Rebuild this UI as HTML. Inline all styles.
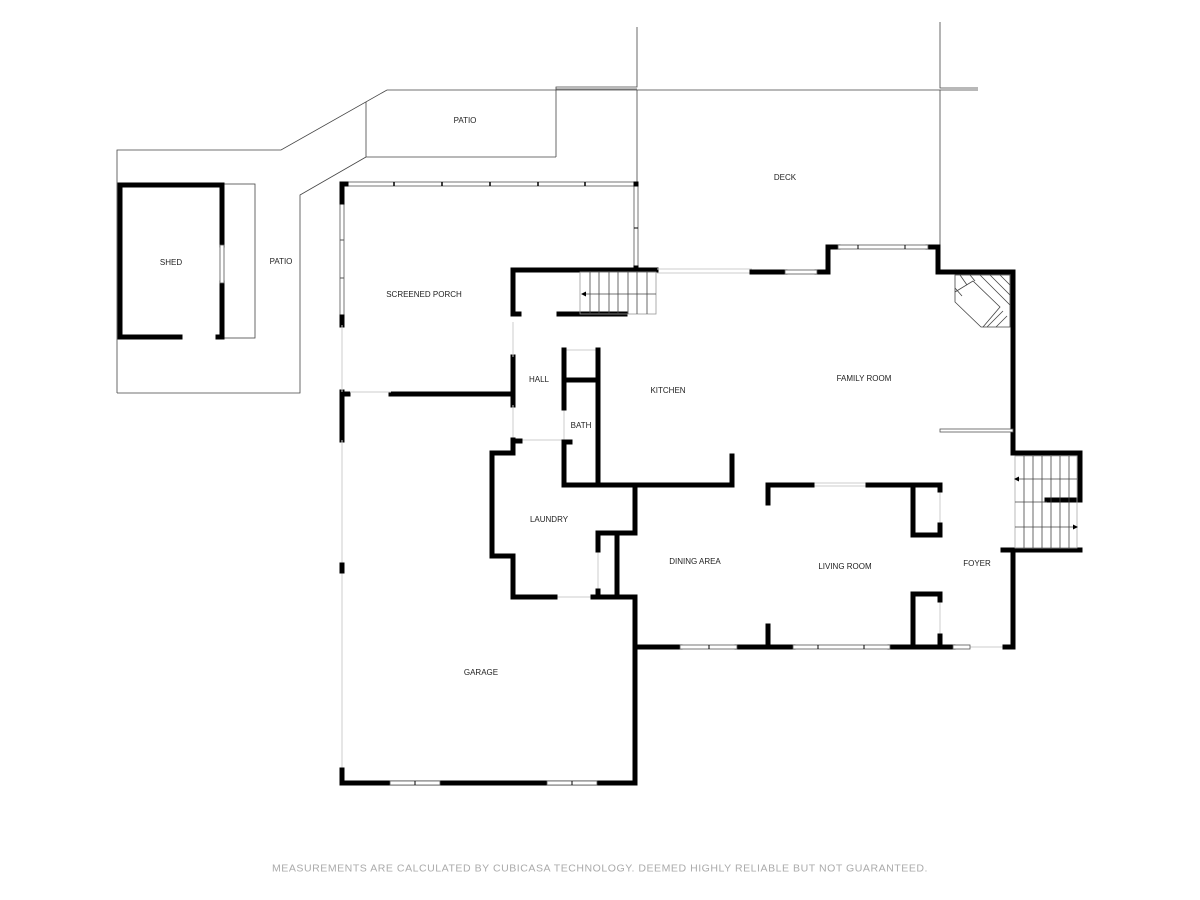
<!DOCTYPE html>
<html><head><meta charset="utf-8"><style>
html,body{margin:0;padding:0;background:#fff;width:1200px;height:900px;overflow:hidden}
svg{display:block}
text{font-family:"Liberation Sans",sans-serif;font-size:8px;fill:#222;text-anchor:middle;dominant-baseline:middle}
.w{stroke:#000;stroke-width:5;fill:none;stroke-linecap:square}
.t{stroke:#444;stroke-width:0.8;fill:none}
.l{stroke:#ccc;stroke-width:1;fill:none}
.win{fill:#fff;stroke:#555;stroke-width:0.8}
</style></head><body>
<svg width="1200" height="900" viewBox="0 0 1200 900" xmlns="http://www.w3.org/2000/svg">
<!-- outdoor outlines -->
<g class="t">
<polyline points="117,393 117,150 281,150 387,90 978,90"/>
<polyline points="556,157 556,87 637,87 637,27"/>
<line x1="556" y1="89" x2="637" y2="89"/>
<line x1="637" y1="90" x2="637" y2="183"/>
<polyline points="940,22 940,88 978,88"/>
<line x1="940" y1="90" x2="940" y2="247"/>
<polyline points="366,102 366,157 556,157"/>
<polyline points="366,157 300,195 300,393 117,393"/>
<rect x="222" y="184" width="33" height="154"/>
</g>
<!-- shed -->
<g class="w">
<polyline points="180,337 120,337 120,185 222,185 222,245"/>
<polyline points="222,283 222,337 218,337"/>
</g>
<rect class="win" x="220" y="245" width="4" height="38"/>
<!-- porch windows -->
<g>
<rect class="win" x="346" y="182" width="290" height="4"/>
<line x1="394" y1="182" x2="394" y2="186" stroke="#000" stroke-width="1.5"/>
<line x1="442" y1="182" x2="442" y2="186" stroke="#000" stroke-width="1.5"/>
<line x1="490" y1="182" x2="490" y2="186" stroke="#000" stroke-width="1.5"/>
<line x1="538" y1="182" x2="538" y2="186" stroke="#000" stroke-width="1.5"/>
<line x1="585" y1="182" x2="585" y2="186" stroke="#000" stroke-width="1.5"/>
<rect class="win" x="340" y="203" width="4" height="112"/>
<line x1="340" y1="240" x2="344" y2="240" stroke="#555"/>
<line x1="340" y1="278" x2="344" y2="278" stroke="#555"/>
<rect class="win" x="634" y="186" width="4" height="84"/>
<line x1="634" y1="228" x2="638" y2="228" stroke="#000"/>
</g>
<g class="w">
<line x1="342" y1="184" x2="346" y2="184"/>
<line x1="342" y1="184" x2="342" y2="202"/>
<line x1="636" y1="184" x2="636" y2="184"/>
<line x1="342" y1="317" x2="342" y2="325"/>
<line x1="342" y1="392" x2="342" y2="440"/>
<line x1="342" y1="394" x2="348" y2="394"/>
<polyline points="391,394 513,394"/>
<polyline points="513,405 513,357"/>
<polyline points="519,314 513,314 513,270 656,270"/>
<line x1="559" y1="314" x2="625" y2="314"/>
<line x1="636" y1="268" x2="636" y2="270"/>
</g>
<g class="l">
<line x1="342" y1="325" x2="342" y2="392"/>
<line x1="342" y1="440" x2="342" y2="780"/>
<line x1="350" y1="392" x2="391" y2="392"/>
<line x1="513" y1="322" x2="513" y2="357"/>
<line x1="513" y1="405" x2="513" y2="440"/>
<line x1="513" y1="440" x2="563" y2="440"/>
<line x1="657" y1="269" x2="752" y2="269"/>
<line x1="657" y1="273" x2="752" y2="273"/>
<line x1="564" y1="350" x2="598" y2="350"/>
<line x1="564" y1="408" x2="564" y2="442"/>
<line x1="555" y1="597" x2="593" y2="597"/>
<line x1="598" y1="550" x2="598" y2="590"/>
<line x1="940" y1="490" x2="940" y2="525"/>
<line x1="940" y1="600" x2="940" y2="636"/>
<line x1="812" y1="483" x2="868" y2="483"/>
<line x1="812" y1="486" x2="868" y2="486"/>
<line x1="970" y1="647" x2="1005" y2="647"/>
</g>
<!-- left stair -->
<g class="t" stroke="#555">
<rect x="580" y="272" width="76" height="42" stroke="#999"/>
<line x1="590" y1="272" x2="590" y2="314"/><line x1="599" y1="272" x2="599" y2="314"/>
<line x1="609" y1="272" x2="609" y2="314"/><line x1="618" y1="272" x2="618" y2="314"/>
<line x1="628" y1="272" x2="628" y2="314"/><line x1="637" y1="272" x2="637" y2="314"/>
<line x1="647" y1="272" x2="647" y2="314"/>
<line x1="583" y1="294" x2="656" y2="294"/>
</g>
<polygon points="581,294 586,291.5 586,296.5" fill="#000"/>
<!-- bath / hall / kitchen -->
<g class="w">
<polyline points="564,350 564,408"/>
<polyline points="598,350 598,485"/>
<line x1="564" y1="380" x2="598" y2="380"/>
<polyline points="570,442 564,442 564,485 732,485 732,456"/>
<!-- laundry -->
<polyline points="513,440 513,453 492,453 492,556 513,556 513,597 555,597"/>
<line x1="520" y1="441" x2="513" y2="441"/>
<polyline points="593,597 635,597 635,783 342,783 342,770"/>
<line x1="342" y1="565" x2="342" y2="571"/>
<polyline points="635,485 635,533 598,533 598,550"/>
<line x1="598" y1="591" x2="598" y2="597"/>
<line x1="617" y1="533" x2="617" y2="597"/>
<!-- dining / living -->
<polyline points="635,647 680,647"/>
<line x1="737" y1="647" x2="793" y2="647"/>
<line x1="890" y1="647" x2="953" y2="647"/>
<line x1="1005" y1="647" x2="1013" y2="647"/>
<line x1="768" y1="626" x2="768" y2="647"/>
<polyline points="768,503 768,485 812,485"/>
<polyline points="868,485 940,485 940,490"/>
<polyline points="913,485 913,535 940,535 940,525"/>
<polyline points="940,600 940,594 913,594 913,645"/>
<line x1="940" y1="636" x2="940" y2="645"/>
<!-- exterior east -->
<polyline points="752,272 785,272"/>
<polyline points="817,272 828,272 828,247 838,247"/>
<polyline points="928,247 938,247 938,272 1013,272 1013,453 1080,453 1080,500 1047,500"/>
<polyline points="1003,550 1080,550"/>
<line x1="1013" y1="550" x2="1013" y2="647"/>
</g>
<!-- windows east/south -->
<rect class="win" x="785" y="270" width="32" height="4"/>
<rect class="win" x="838" y="245" width="90" height="4"/>
<line x1="858" y1="245" x2="858" y2="249" stroke="#000"/><line x1="905" y1="245" x2="905" y2="249" stroke="#000"/>
<rect class="win" x="390" y="781" width="50" height="4"/><line x1="415" y1="781" x2="415" y2="785" stroke="#000"/>
<rect class="win" x="547" y="781" width="50" height="4"/><line x1="572" y1="781" x2="572" y2="785" stroke="#000"/>
<rect class="win" x="680" y="645" width="57" height="4"/><line x1="709" y1="645" x2="709" y2="649" stroke="#000"/>
<rect class="win" x="793" y="645" width="97" height="4"/><line x1="818" y1="645" x2="818" y2="649" stroke="#000"/><line x1="864" y1="645" x2="864" y2="649" stroke="#000"/>
<rect class="win" x="953" y="645" width="17" height="4"/>
<rect class="win" x="940" y="429" width="73" height="3"/>
<!-- fireplace -->
<g class="t" stroke="#222">
<polygon points="955,275 1010,275 1010,327 981,327 955,302"/>
<polyline points="955,292 973,281 1000,307 983,327"/>
<line x1="960" y1="275" x2="967" y2="285"/><line x1="970" y1="275" x2="975" y2="281"/>
<line x1="980" y1="275" x2="1010" y2="305"/><line x1="990" y1="275" x2="1010" y2="295"/>
<line x1="1000" y1="275" x2="1010" y2="285"/>
<line x1="955" y1="288" x2="962" y2="296"/>
<line x1="987" y1="327" x2="1003" y2="311"/><line x1="996" y1="327" x2="1007" y2="316"/>
</g>
<!-- right stairs -->
<g class="t" stroke="#666">
<rect x="1015" y="456" width="62" height="92" stroke="#aaa"/>
<line x1="1015" y1="502" x2="1047" y2="502"/>
<line x1="1024" y1="456" x2="1024" y2="548"/><line x1="1033" y1="456" x2="1033" y2="548"/>
<line x1="1042" y1="456" x2="1042" y2="548"/><line x1="1051" y1="456" x2="1051" y2="548"/>
<line x1="1060" y1="456" x2="1060" y2="548"/><line x1="1069" y1="456" x2="1069" y2="548"/>
<line x1="1016" y1="479" x2="1077" y2="479"/>
<line x1="1015" y1="527" x2="1075" y2="527"/>
</g>
<polygon points="1014,479 1019,476.5 1019,481.5" fill="#000"/>
<polygon points="1078,527 1073,524.5 1073,529.5" fill="#000"/>
<!-- labels -->
<text x="465" y="121">PATIO</text>
<text x="785" y="178">DECK</text>
<text x="171" y="263">SHED</text>
<text x="281" y="262">PATIO</text>
<text x="424" y="295">SCREENED PORCH</text>
<text x="539" y="380">HALL</text>
<text x="668" y="391">KITCHEN</text>
<text x="864" y="379">FAMILY ROOM</text>
<text x="581" y="426">BATH</text>
<text x="549" y="520">LAUNDRY</text>
<text x="695" y="562">DINING AREA</text>
<text x="845" y="567">LIVING ROOM</text>
<text x="977" y="564">FOYER</text>
<text x="481" y="673">GARAGE</text>
<text x="600" y="869" style="font-size:10px;fill:#aaa;letter-spacing:0.5px" textLength="656" lengthAdjust="spacingAndGlyphs">MEASUREMENTS ARE CALCULATED BY CUBICASA TECHNOLOGY. DEEMED HIGHLY RELIABLE BUT NOT GUARANTEED.</text>
</svg>
</body></html>
